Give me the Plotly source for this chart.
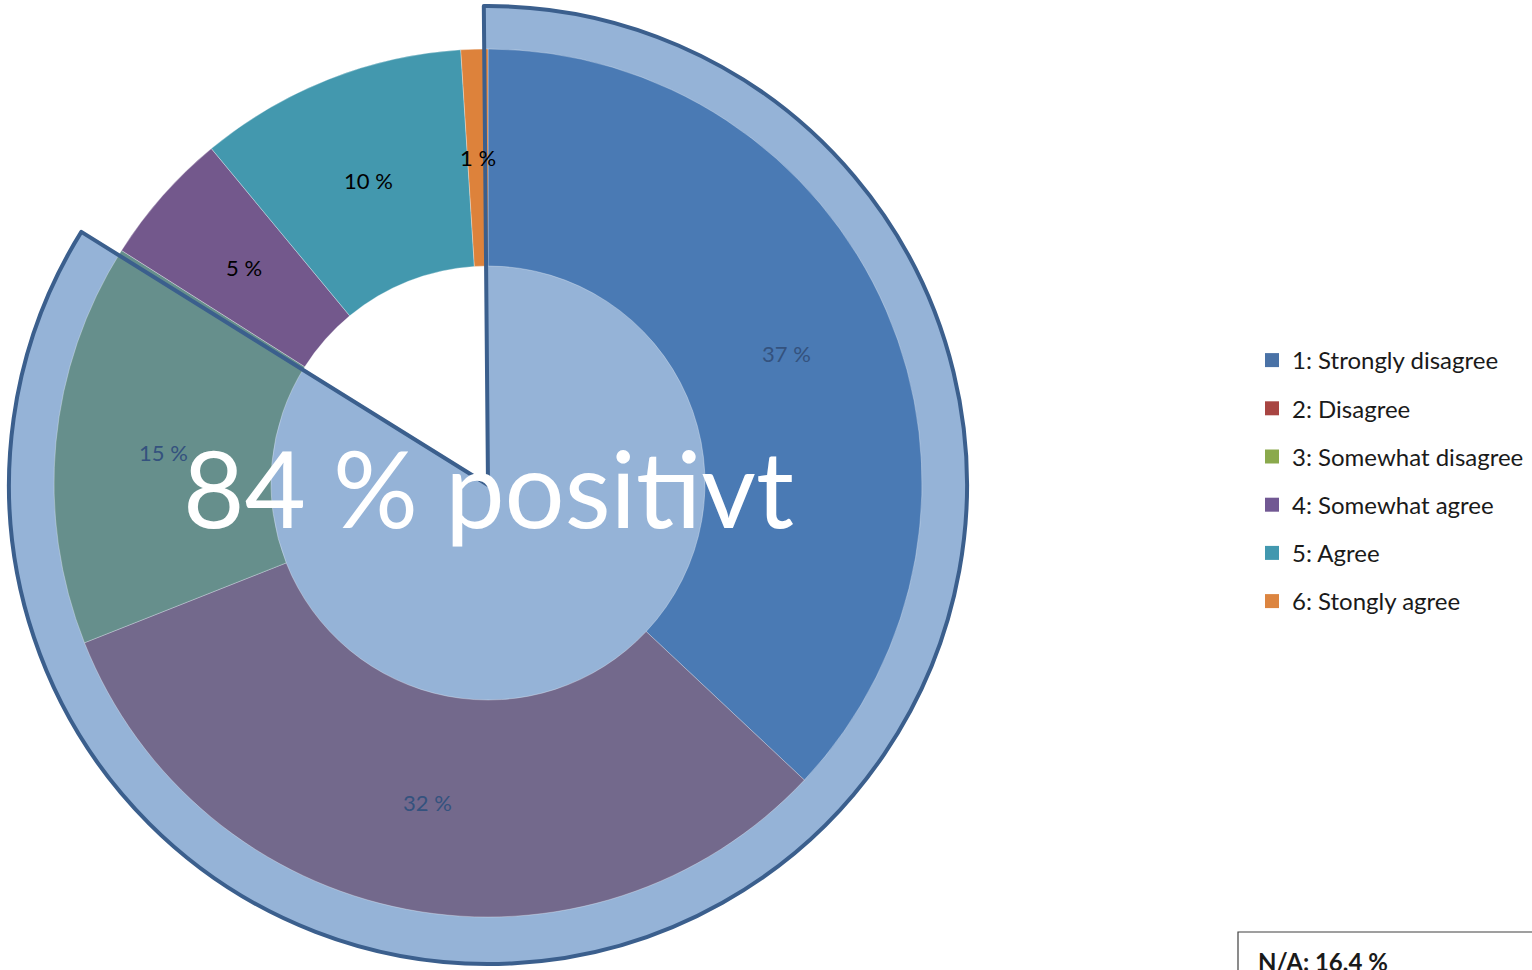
import math
import plotly.graph_objects as go

# ---- data ----
categories = ["1: Strongly disagree", "2: Disagree", "3: Somewhat disagree",
              "4: Somewhat agree", "5: Agree", "6: Stongly agree"]
values = [37, 32, 15, 5, 10, 1]
slice_colors = ["#4A7AB4", "#73698C", "#668F8C", "#73588C", "#4398AE", "#DD823B"]
legend_colors = ["#4A72A6", "#A84542", "#8AA94C", "#715893", "#4298AF", "#DC8540"]
label_colors = ["#34527E", "#34527E", "#34527E", "#000000", "#000000", "#000000"]
highlight_count = 3
highlight_label = "positivt"
na_text = "N/A: 16,4 %"

W, H = 1532, 970
FONT = "Lato"

highlight_share = sum(values[:highlight_count])
rest_share = sum(values) - highlight_share

def dom(cx, cy_top, r):
    cy = H - cy_top
    return dict(x=[(cx - r) / W, (cx + r) / W], y=[(cy - r) / H, (cy + r) / H])

cx, cy = 488, 483
R_OUT, R_DONUT, HOLE = 479, 434, 0.5
outer_dom = dom(cx, cy + 2, R_OUT)
donut_dom = dom(cx, cy, R_DONUT)

fig = go.Figure()

# highlight wedge fill (under donut)
fig.add_trace(go.Pie(
    values=[highlight_share, rest_share], labels=["hl", "rest"],
    sort=False, direction="clockwise", rotation=-0.5,
    marker=dict(colors=["#95B3D7", "rgba(0,0,0,0)"], line=dict(width=0)),
    textinfo="none", hoverinfo="skip", showlegend=False, domain=outer_dom,
))

# donut
fig.add_trace(go.Pie(
    values=values, labels=categories,
    sort=False, direction="clockwise", rotation=0, hole=HOLE,
    marker=dict(colors=slice_colors, line=dict(width=0.6, color="rgba(255,255,255,0.5)")),
    textinfo="none",
    hoverinfo="label+value", showlegend=False, domain=donut_dom,
))

# highlight wedge outline (on top)
fig.add_trace(go.Pie(
    values=[highlight_share, rest_share], labels=["hl", "rest"],
    sort=False, direction="clockwise", rotation=-0.5,
    marker=dict(colors=["rgba(0,0,0,0)", "rgba(0,0,0,0)"],
                line=dict(width=4, color=["#3B5F8D", "rgba(0,0,0,0)"])),
    textinfo="none", hoverinfo="skip", showlegend=False, domain=outer_dom,
))

# slice labels at the middle of the ring, mid-angle of each slice
total = sum(values)
r_mid = R_DONUT * (1 + HOLE) / 2
cum = 0
for v, col in zip(values, label_colors):
    ang = 2 * math.pi * (cum + v / 2) / total
    cum += v
    px = cx + r_mid * math.sin(ang)
    py = cy - r_mid * math.cos(ang)
    fig.add_annotation(
        text=f"{v} %", x=px / W, y=(H - py) / H, xref="paper", yref="paper",
        xanchor="center", yanchor="middle", showarrow=False,
        font=dict(family=FONT, size=22, color=col),
    )

# legend entries
for i, (name, col) in enumerate(zip(categories, legend_colors)):
    fig.add_trace(go.Scatter(
        x=[None], y=[None], mode="markers", name=name, legendgroup=f"g{i}",
        marker=dict(symbol="square", size=14, color=col),
    ))

fig.add_annotation(
    text=f"{highlight_share} % {highlight_label}", x=cx / W, y=(H - 487) / H,
    xref="paper", yref="paper", xanchor="center", yanchor="middle",
    showarrow=False, font=dict(family=FONT, size=106, color="white"),
)

fig.add_shape(type="rect", xref="paper", yref="paper",
              x0=1238 / W, x1=1560 / W, y0=-20 / H, y1=(H - 932) / H,
              line=dict(color="#404040", width=1.2), fillcolor="white")
fig.add_annotation(
    text=f"<b>{na_text}</b>", x=1256 / W, y=(H - 961) / H, xref="paper", yref="paper",
    xanchor="left", yanchor="middle", showarrow=False,
    font=dict(family=FONT, size=24, color="#1a1a1a"),
)

fig.update_layout(
    width=W, height=H, margin=dict(l=0, r=0, t=0, b=0),
    paper_bgcolor="white", plot_bgcolor="white",
    xaxis=dict(visible=False), yaxis=dict(visible=False),
    showlegend=True,
    legend=dict(x=1252 / W, y=(H - 338) / H, xanchor="left", yanchor="top",
                font=dict(family=FONT, size=24, color="#1a1a1a"),
                tracegroupgap=14, itemwidth=30, bgcolor="rgba(0,0,0,0)"),
)

fig.write_html("out.html", config={"displayModeBar": False},
               post_script="document.body.style.margin='0px';")
